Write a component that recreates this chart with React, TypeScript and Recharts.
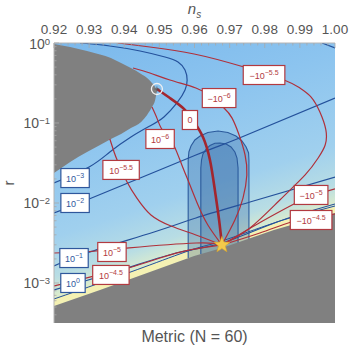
import React from "react";
import { ComposedChart, Area, Line, Scatter, XAxis, YAxis } from "recharts";

const W = 349;
const H = 349;
const FONT = "'Liberation Sans', Arial, sans-serif";
const RED = "#b0303a";
const BLUE = "#24519b";
const GRAY = "#808080";
const R_MIN = 0.000316;
const R_MAX = 1;

// top axis (n_s)
const nsTicks = [0.92, 0.93, 0.94, 0.95, 0.96, 0.97, 0.98, 0.99, 1.0];
const nsMinorTicks = [
  0.922, 0.924, 0.926, 0.928, 0.932, 0.934, 0.936, 0.938, 0.942, 0.944, 0.946,
  0.948, 0.952, 0.954, 0.956, 0.958, 0.962, 0.964, 0.966, 0.968, 0.972, 0.974,
  0.976, 0.978, 0.982, 0.984, 0.986, 0.988, 0.992, 0.994, 0.996, 0.998,
];
// left axis (r, log)
const rTicks = [0.001, 0.01, 0.1, 1];
const rMinorTicks = [
  0.0004, 0.0005, 0.0006, 0.0007, 0.0008, 0.0009, 0.002, 0.003, 0.004, 0.005,
  0.006, 0.007, 0.008, 0.009, 0.02, 0.03, 0.04, 0.05, 0.06, 0.07, 0.08, 0.09,
  0.2, 0.3, 0.4, 0.5, 0.6, 0.7, 0.8, 0.9,
];

// excluded regions: [n_s, r_low, r_high]
const grayTopRegion: [number, number, number][] = [
  [0.92, 0.0237, 0.972],
  [0.9246, 0.0326, 0.891],
  [0.9294, 0.0434, 0.794],
  [0.9331, 0.0531, 0.718],
  [0.9362, 0.0631, 0.649],
  [0.9391, 0.0729, 0.562],
  [0.9419, 0.0866, 0.487],
  [0.9448, 0.103, 0.41],
  [0.9465, 0.126, 0.365],
  [0.9479, 0.158, 0.316],
  [0.9488, 0.194, 0.282],
  [0.9493, 0.251, 0.251],
];
const grayBottomEdge: [number, number][] = [
  [0.92, 0.000516], [0.9331, 0.000818], [0.9473, 0.00137], [0.9599, 0.00218],
  [0.9678, 0.00274], [0.9826, 0.0046], [0.9915, 0.00596], [1.0, 0.0075],
];
const bandTop: [number, number][] = [
  [0.92, 0.000631], [0.9331, 0.001], [0.9473, 0.00168], [0.9599, 0.00266],
  [0.9678, 0.00335], [0.9826, 0.00562], [0.9915, 0.00729], [1.0, 0.00917],
];

// Planck-like contours
const outerArch: [number, number][] = [
  [0.9582, 0.0345], [0.9584, 0.0434], [0.959, 0.0516], [0.9601, 0.0613],
  [0.9616, 0.0688], [0.9638, 0.076], [0.9667, 0.0794], [0.9695, 0.076],
  [0.9718, 0.0688], [0.9735, 0.0596], [0.9747, 0.0501], [0.9754, 0.0422],
  [0.9755, 0.0345],
];
const outerArchFeet: [number, number][] = [[0.9582, 0.00205], [0.9755, 0.00358]];
const innerArch: [number, number][] = [
  [0.9618, 0.0274], [0.962, 0.0345], [0.9624, 0.041], [0.9633, 0.0473],
  [0.9644, 0.0523], [0.9658, 0.0557], [0.9673, 0.0562], [0.969, 0.0546],
  [0.9704, 0.0501], [0.9715, 0.0434], [0.9721, 0.0365], [0.9724, 0.0274],
];
const innerArchFeet: [number, number][] = [[0.9618, 0.0023], [0.9724, 0.00321]];

// xi contours (blue)
const xiM3: [number, number][] = [
  [0.92, 0.0178], [0.93, 0.0282], [0.9359, 0.0434], [0.9419, 0.0668],
  [0.9473, 0.0917], [0.9513, 0.119], [0.955, 0.178], [0.9573, 0.259],
  [0.9579, 0.345], [0.9573, 0.46], [0.9553, 0.579], [0.9516, 0.668],
  [0.9445, 0.794], [0.9359, 0.917], [0.9274, 1.0],
];
const xiM3Corner: [number, number][] = [[0.9963, 1.0], [1.0, 0.866]];
const xiM2: [number, number][] = [
  [0.92, 0.0075], [0.93, 0.0112], [0.9604, 0.0398], [0.9721, 0.0631], [1.0, 0.205],
];
const xiM1: [number, number][] = [
  [0.92, 0.00163], [0.9294, 0.00237], [0.9485, 0.00434], [0.9604, 0.00649],
  [0.9758, 0.0103], [1.0, 0.0211],
];
const xi0: [number, number][] = [
  [0.92, 0.000818], [0.9288, 0.00106], [0.9416, 0.00158], [0.9559, 0.00244],
  [0.9678, 0.00316], [0.9835, 0.00579], [1.0, 0.00972],
];

// lambda contours (red)
const lam0: [number, number][] = [
  [0.9493, 0.266], [0.953, 0.205], [0.957, 0.15], [0.9599, 0.103],
  [0.9624, 0.0668], [0.9644, 0.0345], [0.9658, 0.0145], [0.967, 0.00613],
  [0.9678, 0.00299],
];
const lamP6: [number, number][] = [
  [0.9479, 0.158], [0.9493, 0.115], [0.9505, 0.0866], [0.9525, 0.0649],
  [0.9542, 0.0516], [0.9564, 0.0299], [0.9587, 0.0168], [0.961, 0.00944],
  [0.9638, 0.00531], [0.9678, 0.00299],
];
const lamP55: [number, number][] = [
  [0.9359, 0.0631], [0.9371, 0.0434], [0.9382, 0.0326], [0.9408, 0.0183],
  [0.9436, 0.0115], [0.9476, 0.00708], [0.9533, 0.00516], [0.9604, 0.00398],
  [0.9678, 0.00299],
];
const lamP5: [number, number][] = [
  [0.92, 0.00237], [0.932, 0.00251], [0.9414, 0.00274], [0.9604, 0.00316],
  [0.9678, 0.00299],
];
const lamP45: [number, number][] = [
  [0.92, 0.000917], [0.9314, 0.00122], [0.9411, 0.00154], [0.9502, 0.00205],
  [0.9587, 0.00259], [0.9678, 0.00299],
];
const lamN6: [number, number][] = [
  [0.9425, 0.487], [0.9473, 0.422], [0.953, 0.345], [0.9604, 0.274],
  [0.9644, 0.218], [0.9684, 0.154], [0.9707, 0.115], [0.9727, 0.0708],
  [0.9744, 0.0398], [0.9749, 0.0224], [0.9738, 0.0115], [0.9715, 0.00613],
  [0.9678, 0.00299],
];
const lamN55: [number, number][] = [
  [0.9382, 1.0], [0.9473, 0.891], [0.9599, 0.729], [0.9741, 0.501],
  [0.9855, 0.345], [0.99, 0.274], [0.9932, 0.211], [0.9957, 0.137],
  [0.9974, 0.0818], [0.9972, 0.0531], [0.9952, 0.0365], [0.9915, 0.0224],
  [0.9843, 0.0109], [0.9758, 0.00487], [0.9678, 0.00299],
];
const lamN5: [number, number][] = [
  [0.9678, 0.00299], [0.9789, 0.00579], [0.9883, 0.00972], [0.9932, 0.0122], [1.0, 0.015],
];
const lamN45: [number, number][] = [
  [0.9678, 0.00299], [0.9786, 0.00422], [0.9875, 0.00579], [0.9932, 0.00649], [1.0, 0.00729],
];

const starPoint = [{ x: 0.9678, y: 0.00299 }];
const tipPoint = [{ x: 0.9493, y: 0.266 }];

const xiTags = [
  { x: 0.926, y: 0.0205, sign: "", exp: "−3" },
  { x: 0.926, y: 0.01, sign: "", exp: "−2" },
  { x: 0.9257, y: 0.00205, sign: "", exp: "−1" },
  { x: 0.9254, y: 0.001, sign: "", exp: "0" },
];
const lamTags = [
  { x: 0.9587, y: 0.109, sign: "", exp: "" },
  { x: 0.9502, y: 0.0631, sign: "", exp: "−6" },
  { x: 0.9391, y: 0.0259, sign: "", exp: "−5.5" },
  { x: 0.9365, y: 0.00244, sign: "", exp: "−5" },
  { x: 0.9362, y: 0.00126, sign: "", exp: "−4.5" },
  { x: 0.967, y: 0.205, sign: "−", exp: "−6" },
  { x: 0.9798, y: 0.398, sign: "−", exp: "−5.5" },
  { x: 0.9932, y: 0.0126, sign: "−", exp: "−5" },
  { x: 0.9932, y: 0.00613, sign: "−", exp: "−4.5" },
];

const pts = (a: [number, number][]) => a.map(([x, y]) => ({ x, y }));
const rangeFrom = (a: [number, number, number][]) =>
  a.map(([x, lo, hi]) => ({ x, range: [lo, hi] }));
const below = (a: [number, number][]) => a.map(([x, y]) => ({ x, range: [R_MIN, y] }));

const background = [
  { x: 0.92, range: [R_MIN, R_MAX] },
  { x: 1.0, range: [R_MIN, R_MAX] },
];
const band = grayBottomEdge.map(([x, lo], i) => ({ x, range: [lo, bandTop[i][1]] }));

const majorNs = new Set(nsTicks.map((v) => v.toFixed(3)));

function TopTick({ x, y, payload }: any) {
  const v = payload.value;
  const major = majorNs.has(v.toFixed(3));
  return (
    <g>
      <line x1={x} x2={x} y1={y + 6} y2={y + 6 + (major ? 5 : 2.5)} stroke="#a8a8a8" strokeWidth={0.8} />
      {major && (
        <text x={x} y={y - 3} textAnchor="middle" fontSize={13.5} fill="#555" fontFamily={FONT}>
          {v.toFixed(2)}
        </text>
      )}
    </g>
  );
}

function LeftTick({ x, y, payload }: any) {
  const v = payload.value;
  const lg = Math.log10(v);
  const e = Math.round(lg);
  const major = Math.abs(lg - e) < 1e-6;
  const exp = e < 0 ? "−" + Math.abs(e) : String(e);
  return (
    <g>
      <line x1={x + 4} x2={x + 4 + (major ? 5 : 2.5)} y1={y} y2={y} stroke="#a8a8a8" strokeWidth={0.8} />
      {major && (
        <text x={x} y={y + 5.5} textAnchor="end" fontSize={14} fill="#555" fontFamily={FONT}>
          <tspan>10</tspan>
          <tspan dy={-4} fontSize={9.5}>{exp}</tspan>
        </text>
      )}
    </g>
  );
}

function Tag({ cx, cy, payload, color }: any) {
  const main = payload.sign + (payload.exp ? "10" : "0");
  const w = main.length * 5.2 + payload.exp.length * 4 + 10;
  const h = 19;
  return (
    <g>
      <rect x={cx - w / 2} y={cy - h / 2} width={w} height={h} fill="#fff" stroke={color} strokeWidth={1.2} />
      <text x={cx} y={cy + (payload.exp ? 4 : 3)} textAnchor="middle" fontSize={9} fill={color} fontFamily={FONT}>
        <tspan>{main}</tspan>
        {payload.exp && (
          <tspan dy={-4} fontSize={7}>
            {payload.exp}
          </tspan>
        )}
      </text>
    </g>
  );
}

function StarMark({ cx, cy }: any) {
  const p: string[] = [];
  for (let i = 0; i < 10; i++) {
    const a = -Math.PI / 2 + (i * Math.PI) / 5;
    const rad = i % 2 === 0 ? 8.5 : 3.6;
    p.push(`${cx + rad * Math.cos(a)},${cy + rad * Math.sin(a)}`);
  }
  return <polygon points={p.join(" ")} fill="#f3c94a" stroke="#d9a52a" strokeWidth={0.6} />;
}

function TipMark({ cx, cy }: any) {
  return (
    <g>
      <circle cx={cx} cy={cy} r={5.5} fill="none" stroke="#f2f2f2" strokeWidth={1.3} />
      <line x1={cx - 2.5} x2={cx + 2.5} y1={cy} y2={cy} stroke="#555" strokeWidth={0.8} />
      <line x1={cx} x2={cx} y1={cy - 2.5} y2={cy + 2.5} stroke="#555" strokeWidth={0.8} />
    </g>
  );
}

const curve = (data: [number, number][], color: string, width = 1.2, type: any = "natural") => (
  <Line
    data={pts(data)}
    dataKey="y"
    type={type}
    stroke={color}
    strokeWidth={width}
    dot={false}
    activeDot={false}
    isAnimationActive={false}
  />
);

export default function App() {
  return (
    <div style={{ position: "absolute", left: 0, top: 0, width: W, height: H, background: "#fff", fontFamily: FONT }}>
      <ComposedChart width={W} height={H} margin={{ top: 13, right: 14, bottom: 26, left: 10 }}>
        <defs>
          <linearGradient id="bgGrad" x1={0.598} y1={0.732} x2={0.32} y2={-0.114}>
            <stop offset="0" stopColor="#e8efc0" />
            <stop offset="0.04" stopColor="#d4e9d2" />
            <stop offset="0.1" stopColor="#b8dde4" />
            <stop offset="0.25" stopColor="#a0d0ee" />
            <stop offset="0.6" stopColor="#8cc4ef" />
            <stop offset="1" stopColor="#7ab8ec" />
          </linearGradient>
        </defs>
        <XAxis
          dataKey="x"
          type="number"
          orientation="top"
          domain={[0.92, 1.0]}
          allowDataOverflow
          ticks={[...nsTicks, ...nsMinorTicks].sort((a, b) => a - b)}
          interval={0}
          height={30}
          tickSize={0}
          tickMargin={6}
          tickLine={false}
          axisLine={{ stroke: "#b4b4b4" }}
          tick={<TopTick />}
        />
        <XAxis xAxisId="frame" type="number" orientation="bottom" domain={[0, 1]} height={0} tick={false} tickLine={false} axisLine={{ stroke: "#c4c4c4" }} />
        <YAxis
          dataKey="y"
          type="number"
          scale="log"
          domain={[R_MIN, R_MAX]}
          allowDataOverflow
          ticks={[...rTicks, ...rMinorTicks].sort((a, b) => a - b)}
          interval={0}
          width={44}
          tickSize={0}
          tickMargin={4}
          tickLine={false}
          axisLine={{ stroke: "#b4b4b4" }}
          tick={<LeftTick />}
        />
        <YAxis yAxisId="frame" type="number" orientation="right" domain={[0, 1]} width={0} tick={false} tickLine={false} axisLine={{ stroke: "#c4c4c4" }} />

        <Area data={background} dataKey="range" type="linear" fill="url(#bgGrad)" fillOpacity={1} stroke="none" isAnimationActive={false} />
        <Area data={band} dataKey="range" type="linear" fill="#f4f1b3" fillOpacity={1} stroke="none" isAnimationActive={false} />
        <Area data={below(outerArch)} dataKey="range" type="linear" fill="#2c5f9e" fillOpacity={0.3} stroke="none" isAnimationActive={false} />
        <Area data={below(innerArch)} dataKey="range" type="linear" fill="#2c5f9e" fillOpacity={0.3} stroke="none" isAnimationActive={false} />
        <Area data={below(grayBottomEdge)} dataKey="range" type="linear" fill={GRAY} fillOpacity={1} stroke="none" isAnimationActive={false} />
        <Area data={rangeFrom(grayTopRegion)} dataKey="range" type="monotone" fill={GRAY} fillOpacity={1} stroke="none" isAnimationActive={false} />

        {curve([outerArchFeet[0], ...outerArch, outerArchFeet[1]], "#2b5a9c", 1.1, "linear")}
        {curve([innerArchFeet[0], ...innerArch, innerArchFeet[1]], "#2b5a9c", 1.1, "linear")}

        {curve(bandTop, BLUE, 1)}
        {curve(xi0, BLUE)}
        {curve(xiM1, BLUE)}
        {curve(xiM2, BLUE)}
        {curve(xiM3, BLUE)}
        {curve(xiM3Corner, BLUE, 1.2, "linear")}

        {curve(lamP45, RED)}
        {curve(lamP5, RED)}
        {curve(lamP55, RED)}
        {curve(lamP6, RED)}
        {curve(lamN6, RED)}
        {curve(lamN55, RED)}
        {curve(lamN5, RED)}
        {curve(lamN45, RED)}
        {curve(lam0, "#a3262e", 2.6)}

        <Scatter data={tipPoint} shape={(p: any) => <TipMark {...p} />} isAnimationActive={false} />
        <Scatter data={starPoint} shape={(p: any) => <StarMark {...p} />} isAnimationActive={false} />
        <Scatter data={xiTags} shape={(p: any) => <Tag {...p} color="#2f579c" />} isAnimationActive={false} />
        <Scatter data={lamTags} shape={(p: any) => <Tag {...p} color="#b23a40" />} isAnimationActive={false} />
      </ComposedChart>
      <div style={{ position: "absolute", left: 0, width: 389, top: 0, textAlign: "center", fontSize: 15, color: "#555" }}>
        <i>n</i>
        <sub style={{ fontSize: 10, fontStyle: "italic" }}>s</sub>
      </div>
      <div style={{ position: "absolute", left: 6, top: 175, fontSize: 15, lineHeight: "16px", color: "#555", transform: "rotate(-90deg)" }}>r</div>
      <div style={{ position: "absolute", left: 0, width: 389, top: 328, textAlign: "center", fontSize: 16, color: "#555" }}>
        Metric (N = 60)
      </div>
    </div>
  );
}
